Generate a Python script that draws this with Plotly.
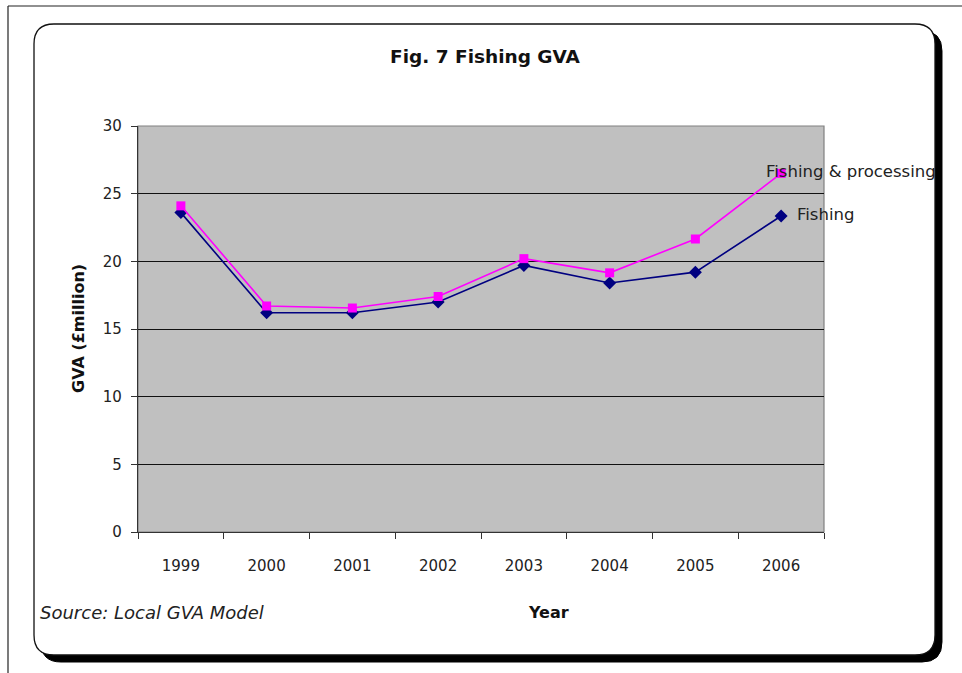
import plotly.graph_objects as go

years = ["1999", "2000", "2001", "2002", "2003", "2004", "2005", "2006"]
fishing = [23.6, 16.2, 16.2, 17.0, 19.7, 18.4, 19.2, 23.35]
fishing_processing = [24.1, 16.7, 16.55, 17.4, 20.2, 19.15, 21.65, 26.5]
series_names = ["Fishing", "Fishing & processing"]

W_PX, H_PX = 962, 673
L, R, T, B = 138, 824, 126, 532
PW, PH = R - L, B - T


def fx(x):
    return (x - L) / PW


def fy(y):
    return (B - y) / PH


def rounded(x0, y0, x1, y1, r):
    pts = [
        ("M", [(x0 + r, y0)]),
        ("L", [(x1 - r, y0)]),
        ("Q", [(x1, y0), (x1, y0 + r)]),
        ("L", [(x1, y1 - r)]),
        ("Q", [(x1, y1), (x1 - r, y1)]),
        ("L", [(x0 + r, y1)]),
        ("Q", [(x0, y1), (x0, y1 - r)]),
        ("L", [(x0, y0 + r)]),
        ("Q", [(x0, y0), (x0 + r, y0)]),
    ]
    s = ""
    for cmd, ps in pts:
        s += cmd + " " + " ".join(f"{fx(a):.5f},{fy(b):.5f}" for a, b in ps) + " "
    return s + "Z"


FONT = "'DejaVu Sans', Verdana, sans-serif"
BOLD = "'DejaVu Sans', Verdana, sans-serif"
TXT = "#222"
last = len(years) - 1

fig = go.Figure()
fig.add_trace(go.Scatter(
    x=years, y=fishing, name=series_names[0], mode="lines+markers",
    line=dict(color="#000080", width=1.6),
    marker=dict(symbol="diamond", size=10, color="#000080"),
))
fig.add_trace(go.Scatter(
    x=years, y=fishing_processing, name=series_names[1], mode="lines+markers",
    line=dict(color="#FF00FF", width=1.6),
    marker=dict(symbol="square", size=9, color="#FF00FF"),
))

shapes = [
    dict(type="line", xref="paper", yref="paper", x0=fx(8), y0=fy(6), x1=fx(962), y1=fy(6),
         line=dict(color="#222", width=1.2), layer="below"),
    dict(type="line", xref="paper", yref="paper", x0=fx(8), y0=fy(6), x1=fx(8), y1=fy(673),
         line=dict(color="#222", width=1.2), layer="below"),
    dict(type="path", xref="paper", yref="paper", path=rounded(41, 31, 942, 662, 20),
         fillcolor="black", line=dict(color="black", width=1), layer="below"),
    dict(type="path", xref="paper", yref="paper", path=rounded(34, 24, 935, 655, 20),
         fillcolor="white", line=dict(color="#111", width=1.3), layer="below"),
    dict(type="rect", xref="paper", yref="paper", x0=0, y0=0, x1=1, y1=1,
         fillcolor="#C0C0C0", line=dict(color="#808080", width=1.2), layer="below"),
]

annotations = [
    dict(text="<b>Fig. 7 Fishing GVA</b>", xref="paper", yref="paper", x=fx(485), y=fy(56),
         showarrow=False, font=dict(family=BOLD, size=18.5, color="#111"), xanchor="center", yanchor="middle"),
    dict(text="<b>GVA (£million)</b>", xref="paper", yref="paper", x=fx(78), y=fy(329),
         showarrow=False, textangle=-90, font=dict(family=BOLD, size=16, color="#111"),
         xanchor="center", yanchor="middle"),
    dict(text="<b>Year</b>", xref="paper", yref="paper", x=fx(548), y=fy(612),
         showarrow=False, font=dict(family=BOLD, size=16, color="#111"), xanchor="center", yanchor="middle"),
    dict(text="<i>Source: Local GVA Model</i>", xref="paper", yref="paper", x=fx(38), y=fy(612),
         showarrow=False, font=dict(family=FONT, size=18, color=TXT), xanchor="left", yanchor="middle"),
    dict(text=series_names[1], x=last, y=fishing_processing[-1], xref="x", yref="y",
         showarrow=False, xanchor="left", yanchor="middle", xshift=-17, yshift=2,
         font=dict(family=FONT, size=16.5, color=TXT)),
    dict(text=series_names[0], x=last, y=fishing[-1], xref="x", yref="y",
         showarrow=False, xanchor="left", yanchor="middle", xshift=14, yshift=2,
         font=dict(family=FONT, size=16.5, color=TXT)),
]

fig.update_layout(
    width=W_PX, height=H_PX,
    margin=dict(l=L, r=W_PX - R, t=T, b=H_PX - B, pad=0),
    paper_bgcolor="white", plot_bgcolor="rgba(0,0,0,0)",
    showlegend=False,
    shapes=shapes, annotations=annotations,
    xaxis=dict(type="category", range=[-0.5, 7.5], tickson="boundaries", ticks="outside",
               ticklen=6, tickcolor="#333", showgrid=False, showline=True, linecolor="#333",
               linewidth=1.2, tickfont=dict(family=FONT, size=15, color=TXT), zeroline=False,
               fixedrange=True, ticklabelstandoff=20),
    yaxis=dict(range=[0, 30], dtick=5, ticks="outside", ticklen=6, tickcolor="#333",
               showgrid=True, gridcolor="#111", gridwidth=1, showline=True, linecolor="#333",
               linewidth=1.2, zeroline=False, tickfont=dict(family=FONT, size=15, color=TXT),
               ticklabelstandoff=6),
)

fig.write_html("out.html", config={"displayModeBar": False},
               post_script="document.body.style.margin='0';document.body.style.overflow='hidden';")
